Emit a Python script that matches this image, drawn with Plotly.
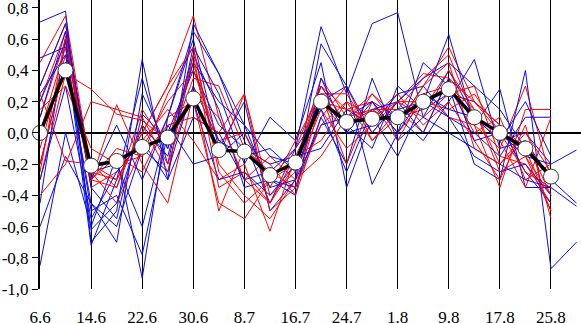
import pandas as pd
import plotly.graph_objects as go

# sampling dates (every 4 days), last one only used by a few series
dates = ["6.6", "10.6", "14.6", "18.6", "22.6", "26.6", "30.6", "4.7", "8.7", "12.7",
         "16.7", "20.7", "24.7", "28.7", "1.8", "5.8", "9.8", "13.8", "17.8", "21.8",
         "25.8", "29.8"]
tick_labels = ["6.6", "14.6", "22.6", "30.6", "8.7", "16.7", "24.7", "1.8", "9.8", "17.8", "25.8"]

mean_values = [0.0, 0.40, -0.21, -0.18, -0.09, -0.03, 0.22, -0.11, -0.12, -0.27, -0.19,
               0.20, 0.07, 0.09, 0.10, 0.20, 0.28, 0.10, 0.0, -0.10, -0.28]

red_series = [
    [0.45, 0.75, -0.25, -0.3, 0.0, 0.3, 0.75, 0.1, -0.3, -0.45, -0.2, 0.35, 0.1, 0.15, 0.05, 0.3, 0.55, 0.2, 0.0, -0.15, -0.5],
    [0.3, 0.7, -0.3, -0.1, -0.15, 0.25, 0.55, -0.2, -0.4, -0.55, -0.3, 0.25, 0.25, 0.0, 0.2, 0.38, 0.35, 0.05, -0.1, 0.3, -0.3],
    [0.1, 0.6, -0.2, -0.35, 0.15, -0.1, 0.35, 0.3, -0.1, -0.25, -0.35, 0.2, 0.0, 0.25, 0.1, 0.15, 0.4, 0.15, -0.2, -0.05, -0.4],
    [-0.1, 0.5, -0.3, -0.15, -0.25, 0.1, 0.2, -0.45, -0.55, -0.3, -0.1, 0.3, 0.15, 0.2, -0.05, 0.25, 0.3, 0.0, 0.1, -0.3, -0.2],
    [-0.3, 0.38, 0.28, 0.12, 0.08, -0.05, 0.45, -0.15, 0.25, -0.4, -0.25, 0.15, -0.1, 0.05, 0.2, 0.1, 0.25, 0.3, -0.15, -0.2, -0.45],
    [0.2, 0.65, -0.35, -0.25, -0.05, 0.15, -0.05, -0.3, -0.2, -0.63, -0.15, -0.05, 0.2, 0.1, 0.25, 0.05, 0.2, -0.05, -0.3, 0.05, -0.55],
    [-0.4, -0.2, 0.2, 0.15, 0.1, -0.2, 0.3, -0.5, -0.1, -0.2, -0.4, 0.1, 0.3, -0.05, 0.15, 0.35, 0.5, 0.1, -0.05, -0.35, 0.1],
    [0.0, 0.55, -0.25, -0.45, -0.1, 0.2, 0.4, -0.05, 0.0, -0.35, -0.05, 0.25, -0.2, 0.2, 0.0, 0.2, 0.15, 0.25, 0.0, -0.25, -0.35],
    [-0.2, 0.45, -0.3, 0.18, -0.2, -0.45, 0.25, 0.1, -0.3, -0.15, -0.3, -0.15, 0.1, 0.25, 0.05, 0.3, 0.45, -0.1, -0.2, 0.0, -0.25],
    [0.25, -0.18, -0.2, -0.3, 0.0, 0.3, 0.55, -0.25, -0.45, -0.3, -0.2, 0.3, 0.05, 0.15, 0.15, 0.0, 0.35, 0.2, 0.05, -0.1, -0.5],
    [0.15, 0.3, -0.1, -0.2, -0.15, 0.05, 0.1, 0.0, 0.25, -0.5, -0.35, 0.05, 0.2, -0.05, 0.1, 0.25, 0.1, 0.05, -0.35, 0.15, 0.15],
    [-0.25, 0.62, -0.3, -0.35, 0.05, -0.25, 0.5, -0.35, -0.25, -0.45, -0.15, 0.2, 0.15, 0.1, 0.2, 0.2, 0.3, 0.15, -0.25, -0.15, -0.4],
]

blue_series = [
    [0.71, 0.78, -0.7, -0.5, 0.47, -0.3, 0.7, 0.38, -0.05, -0.45, -0.1, 0.68, 0.25, 0.70, 0.77, 0.1, 0.4, 0.1, -0.05, 0.0, -0.2, -0.11],
    [-0.85, 0.0, -0.6, -0.15, -0.93, 0.1, 0.6, -0.1, 0.2, -0.5, -0.3, 0.57, 0.3, -0.33, 0.0, 0.45, 0.3, -0.2, -0.3, 0.4, -0.87, -0.7],
    [0.48, 0.55, -0.72, -0.3, 0.35, -0.2, 0.55, 0.25, -0.2, 0.1, -0.05, 0.45, -0.35, 0.1, -0.15, 0.2, 0.63, 0.05, 0.28, -0.35, -0.35, -0.47],
    [-0.6, -0.15, -0.45, -0.7, 0.25, -0.1, 0.5, 0.15, -0.35, -0.3, -0.4, 0.35, 0.0, 0.2, 0.1, -0.05, 0.2, 0.47, -0.1, -0.05, -0.3, -0.45],
    [0.25, 0.5, -0.5, -0.4, -0.78, 0.0, 0.4, 0.05, -0.1, -0.2, -0.15, -0.1, 0.15, 0.05, 0.25, 0.3, 0.1, 0.0, -0.15, 0.1, 0.1],
    [-0.45, 0.6, -0.35, -0.55, 0.12, -0.05, 0.2, -0.3, -0.25, -0.4, -0.2, 0.3, 0.05, -0.1, 0.3, 0.15, 0.25, 0.2, 0.05, -0.25, -0.45],
    [0.1, 0.65, -0.25, -0.2, -0.6, 0.05, -0.2, -0.15, 0.0, -0.3, -0.35, 0.1, -0.2, 0.35, -0.05, 0.1, 0.0, -0.1, -0.2, -0.3, -0.35],
    [-0.2, 0.45, -0.45, -0.6, -0.1, -0.25, 0.3, -0.05, -0.15, -0.1, -0.25, 0.2, 0.3, 0.0, 0.2, 0.35, 0.45, 0.3, 0.15, -0.1, -0.3],
    [0.3, 0.7, -0.3, 0.05, -0.3, 0.1, 0.65, 0.38, 0.05, -0.35, -0.3, 0.05, 0.1, 0.2, 0.0, 0.25, 0.15, 0.1, -0.05, 0.2, -0.15],
    [-0.3, 0.3, -0.55, -0.25, -0.05, -0.3, 0.1, 0.0, -0.3, -0.25, -0.1, 0.15, -0.25, 0.15, 0.2, 0.0, 0.35, -0.05, 0.0, -0.15, -0.2],
    [0.2, 0.58, -0.62, -0.45, 0.05, -0.15, 0.45, 0.2, 0.05, -0.15, -0.2, 0.25, 0.0, 0.05, 0.15, 0.2, 0.1, -0.15, -0.25, -0.2, -0.4],
]

y_ticks = [0.8, 0.6, 0.4, 0.2, 0.0, -0.2, -0.4, -0.6, -0.8, -1.0]


def to_day(label):
    d, m = label.split(".")
    return (pd.Timestamp(2000, int(m), int(d)) - pd.Timestamp(2000, 6, 6)).days


x_days = [to_day(d) for d in dates]
tick_days = [to_day(d) for d in tick_labels]

RED = "rgb(255,0,0)"
BLUE = "rgb(10,10,235)"
SERIF = "Times New Roman, Liberation Serif, DejaVu Serif, serif"

fig = go.Figure()
n = max(len(red_series), len(blue_series))
for i in range(n):
    if i < len(red_series):
        s = red_series[i]
        fig.add_trace(go.Scatter(x=x_days[:len(s)], y=s, mode="lines",
                                 line=dict(color=RED, width=1), hoverinfo="skip"))
    if i < len(blue_series):
        s = blue_series[i]
        fig.add_trace(go.Scatter(x=x_days[:len(s)], y=s, mode="lines",
                                 line=dict(color=BLUE, width=1), hoverinfo="skip"))

fig.add_trace(go.Scatter(
    x=x_days[:len(mean_values)], y=mean_values, mode="lines+markers",
    line=dict(color="black", width=3.5),
    marker=dict(symbol="circle", size=15, color="white",
                line=dict(color="#2a3a3a", width=1)),
    cliponaxis=False,
))

fig.update_layout(
    template="none",
    width=581, height=323,
    margin=dict(l=40, r=0, t=0, b=34, autoexpand=False),
    paper_bgcolor="white", plot_bgcolor="white",
    showlegend=False,
    font=dict(family=SERIF, size=17, color="black"),
)
fig.update_xaxes(
    range=[0, 84.7], automargin=False,
    tickvals=tick_days, ticktext=tick_labels,
    showgrid=True, gridcolor="black", gridwidth=1,
    zeroline=False, showline=False,
    ticks="", ticklabelstandoff=16, ticklabeloverflow="allow",
    tickfont=dict(family=SERIF, size=17, color="black"),
)
fig.update_yaxes(
    range=[-1.0, 0.851], automargin=False,
    tickvals=y_ticks,
    ticktext=[f"{v:.1f}".replace(".", ",").replace("-0,0", "0,0") for v in y_ticks],
    showgrid=False,
    zeroline=True, zerolinecolor="black", zerolinewidth=2,
    showline=True, linecolor="black", linewidth=2,
    ticks="outside", ticklen=6, tickcolor="black", tickwidth=1,
    ticklabeloverflow="allow",
    tickfont=dict(family=SERIF, size=17, color="black"),
)

fig.write_html("out.html", config={"displayModeBar": False},
               post_script="document.body.style.margin='0';")
